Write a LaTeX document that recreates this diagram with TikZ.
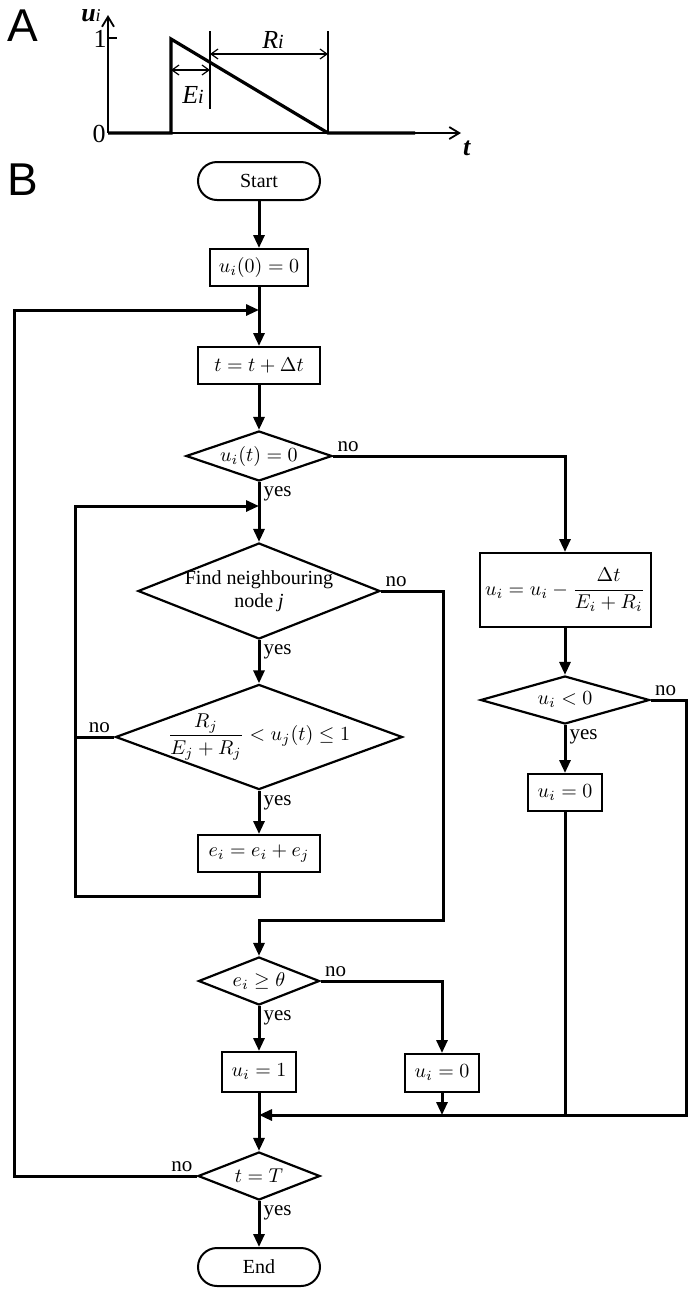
\documentclass[tikz,border=0pt]{standalone}
\usepackage[no-math]{fontspec}
\setmainfont{Liberation Serif}
\setsansfont{Liberation Sans}
\usepackage{amsmath}
\usepackage{tikz}
\usetikzlibrary{shapes.geometric, arrows.meta, positioning, calc}

\begin{document}
\begin{tikzpicture}[
    x=0.5pt, y=-0.5pt,
    >={Triangle[length=6.5pt, width=5.5pt]},
    flow/.style={->, line width=1.5pt},
    wire/.style={line width=1.5pt},
    term/.style={rectangle, draw, line width=1pt, rounded corners=9.5pt,
                 minimum width=61pt, minimum height=19pt, inner sep=0pt,
                 font=\fontsize{10}{12}\selectfont},
    proc/.style={rectangle, draw, line width=1pt, minimum height=18.5pt,
                 inner sep=2pt, font=\fontsize{10}{12}\selectfont},
    decide/.style={diamond, draw, line width=1.1pt, inner sep=0pt, align=center,
                   font=\fontsize{10}{11.5}\selectfont},
    lbl/.style={inner sep=1.5pt, font=\fontsize{10.5}{12}\selectfont},
    panel/.style={inner sep=0pt, font=\fontsize{23}{27}\sffamily},
    axis/.style={line width=0.9pt, -{Straight Barb[length=5pt, width=6pt]}},
    guide/.style={line width=0.6pt},
    span/.style={line width=0.6pt,
                 {Straight Barb[length=3.5pt, width=5pt]}-{Straight Barb[length=3.5pt, width=5pt]}},
    curve/.style={inner sep=0pt, font=\fontsize{13}{15}\selectfont}
]
\useasboundingbox (0,0) rectangle (692,1292);

% panel A
\node[panel] (pA) at (23,26) {A};
\draw[axis] (108,133) -- (108,15);
\draw[axis] (108,133) -- (461,133);
\draw[line width=1.6pt] (108,133) -- (171,133) -- (171,39) -- (328,133) -- (415,133);
\draw[guide] (108,38) -- (117,38);
\draw[guide] (210,31) -- (210,109);
\draw[guide] (328,31) -- (328,133);
\draw[span] (171,70) -- (210,70);
\draw[span] (210,54) -- (328,54);
\node[curve] (ulab) at (91,16) {\textbf{\textit{u}}{\fontsize{9}{9}\selectfont\textit{i}}};
\node[curve] (rlab) at (273,40) {\textit{R}{\fontsize{10}{10}\selectfont\textit{i}}};
\node[curve] (elab) at (193,95) {\textit{E}{\fontsize{10}{10}\selectfont\textit{i}}};
\node[curve, anchor=east] (one) at (107,39) {1};
\node[curve, anchor=east] (zero) at (106,134) {0};
\node[curve] (tlab) at (467,148) {\textbf{\textit{t}}};

% panel B
\node[panel] (pB) at (23,180) {B};
\node[term] (start) at (259,181) {Start};
\node[proc, minimum width=49pt] (init) at (259,267.5) {$u_i(0)=0$};
\node[proc, minimum width=61pt] (tstep) at (259,365.5) {$t=t+\Delta t$};
\node[decide, minimum width=73pt, minimum height=25pt, aspect=2.92] (chk) at (259,456) {$u_i(t)=0$};
\node[decide, minimum width=121pt, minimum height=48pt, aspect=2.52, inner sep=-1.5pt] (find) at (259,591) {Find neighbouring\\node \textit{j}};
\node[decide, minimum width=134pt, minimum height=49pt, aspect=2.73, inner sep=-1.5pt] (ineq) at (259,737) {$\dfrac{R_j}{E_j+R_j}<u_j(t)\le 1$};
\node[proc, minimum width=61pt] (acc) at (259,853.5) {$e_i=e_i+e_j$};
\node[decide, minimum width=60.5pt, minimum height=24pt, aspect=2.52] (thr) at (259,981) {$e_i\ge\theta$};
\node[proc, minimum width=37pt, minimum height=20pt] (fire) at (259,1072) {$u_i=1$};
\node[proc, minimum width=37pt, minimum height=19pt] (rest) at (442,1073) {$u_i=0$};
\node[decide, minimum width=61pt, minimum height=24pt, aspect=2.54] (fin) at (259,1176) {$t=T$};
\node[term] (end) at (259,1267) {End};
\node[proc, minimum width=85.5pt, minimum height=37pt] (decay) at (565,590) {$u_i=u_i-\dfrac{\Delta t}{E_i+R_i}$};
\node[decide, minimum width=84.5pt, minimum height=24pt, aspect=3.52] (neg) at (565,700) {$u_i<0$};
\node[proc, minimum width=37pt] (reset) at (565,792.5) {$u_i=0$};

\coordinate (jn0) at (259,310);
\coordinate (jn1) at (259,506);
\coordinate (jn2) at (259,1115);
\coordinate (jn3) at (443,920);
\coordinate (lpL) at (14,310);
\coordinate (lpT) at (75,506);
\coordinate (lpB) at (75,896);
\coordinate (mgR) at (686,1115);

\draw[flow] (start) -- (init);
\draw[flow] (init) -- (tstep);
\draw[flow] (tstep) -- (chk);
\draw[flow] (chk.east) node[lbl, above right] (no1) {no} -| (decay.north);
\draw[flow] (chk.south) node[lbl, below right] (yes1) {yes} -- (find.north);
\draw[flow] (find.south) node[lbl, below right] (yes2) {yes} -- (ineq.north);
\draw[flow] (find.east) node[lbl, above right] (no2) {no} -| (jn3) -| (thr.north);
\draw[flow] (ineq.south) node[lbl, below right] (yes3) {yes} -- (acc.north);
\draw[flow] (ineq.west) node[lbl, above left] (no3) {no} -| (lpT) -- (jn1);
\draw[wire] (acc.south) |- (lpB) -- (lpT);
\draw[flow] (decay.south) -- (neg.north);
\draw[flow] (neg.south) node[lbl, below right] (yes4) {yes} -- (reset.north);
\draw[flow] (neg.east) node[lbl, above right] (no4) {no} -| (mgR) -- (jn2);
\draw[wire] (reset.south) -- (reset.south |- jn2);
\draw[flow] (thr.south) node[lbl, below right] (yes5) {yes} -- (fire.north);
\draw[flow] (thr.east) node[lbl, above right] (no5) {no} -| (rest.north);
\draw[flow] (rest.south) -- (rest.south |- jn2);
\draw[flow] (fire.south) -- (fin.north);
\draw[flow] (fin.south) node[lbl, below right] (yes6) {yes} -- (end.north);
\draw[flow] (fin.west) node[lbl, above left] (no6) {no} -| (lpL) -- (jn0);
\end{tikzpicture}
\end{document}
